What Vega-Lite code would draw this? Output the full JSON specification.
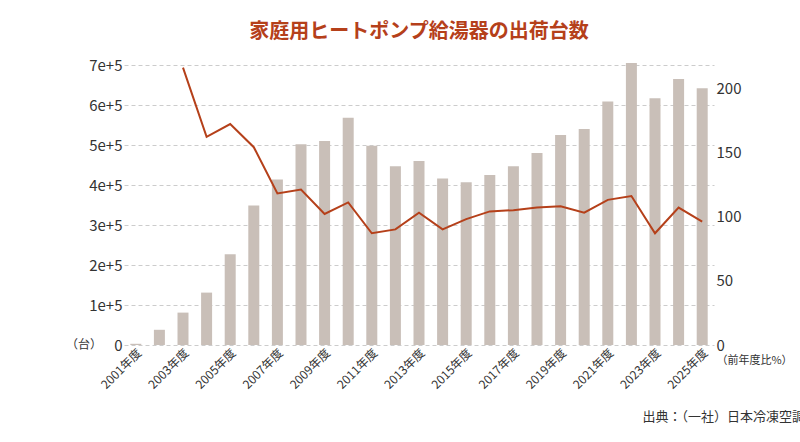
{
"$schema":"https://vega.github.io/schema/vega-lite/v6.json",
"width":590,"height":280,
"padding":{"left":65,"top":22,"right":10,"bottom":5},
"background":"white",
"config":{"font":"Noto Sans CJK JP","view":{"stroke":null}},
"title":{"text":"家庭用ヒートポンプ給湯器の出荷台数","color":"#b5401a","fontSize":20,"fontWeight":"bold","offset":16,"anchor":"middle"},
"data":{"values":[
{"y":"2001年度","n":3000,"r":null},{"y":"2002年度","n":38000,"r":null},{"y":"2003年度","n":81000,"r":216},
{"y":"2004年度","n":131000,"r":162},{"y":"2005年度","n":227000,"r":172},{"y":"2006年度","n":349000,"r":154},
{"y":"2007年度","n":414000,"r":118},{"y":"2008年度","n":502000,"r":121},{"y":"2009年度","n":510000,"r":102},
{"y":"2010年度","n":568000,"r":111},{"y":"2011年度","n":498000,"r":87},{"y":"2012年度","n":447000,"r":90},
{"y":"2013年度","n":460000,"r":103},{"y":"2014年度","n":416000,"r":90},{"y":"2015年度","n":407000,"r":98},
{"y":"2016年度","n":425000,"r":104},{"y":"2017年度","n":447000,"r":105},{"y":"2018年度","n":480000,"r":107},
{"y":"2019年度","n":525000,"r":108},{"y":"2020年度","n":540000,"r":103},{"y":"2021年度","n":609000,"r":113},
{"y":"2022年度","n":705000,"r":116},{"y":"2023年度","n":617000,"r":87},{"y":"2024年度","n":665000,"r":107},
{"y":"2025年度","n":642000,"r":96}]},
"encoding":{"x":{"field":"y","type":"nominal","sort":null,"title":null,
 "axis":{"labelAngle":-45,"labelFontSize":12,"labelColor":"#333","ticks":false,"domain":false,
 "values":["2001年度","2003年度","2005年度","2007年度","2009年度","2011年度","2013年度","2015年度","2017年度","2019年度","2021年度","2023年度","2025年度"]}}},
"layer":[
{"mark":{"type":"bar","color":"#c9bfb8","width":11},
 "encoding":{"y":{"field":"n","type":"quantitative","scale":{"domain":[0,700000]},"title":null,
  "axis":{"values":[0,100000,200000,300000,400000,500000,600000,700000],"format":",","labelFontSize":15,"labelColor":"#333","ticks":false,"domain":false,"gridDash":[4,3],"gridColor":"#ccc"}}}},
{"mark":{"type":"line","color":"#b5401a","strokeWidth":2},
 "encoding":{"y":{"field":"r","type":"quantitative","scale":{"domain":[0,218]},
  "axis":{"orient":"right","values":[0,50,100,150,200],"labelFontSize":15,"labelColor":"#333","ticks":false,"domain":false,"grid":false,
  "title":"（前年度比%）","titleAngle":0,"titleFontSize":11,"titleFontWeight":"normal","titleColor":"#333","titleY":300,"titleX":40,"titleAlign":"center"}}}},
{"mark":{"type":"text","text":"（台）","fontSize":12,"align":"right","color":"#333"},
 "encoding":{"x":{"value":-22},"y":{"value":280}}, "data":{"values":[{}]}},
{"mark":{"type":"text","text":"出典：（一社）日本冷凍空調工業会","fontSize":13,"align":"right","color":"#333"},
 "encoding":{"x":{"value":720},"y":{"value":352}}, "data":{"values":[{}]}}
],
"resolve":{"scale":{"y":"independent"}}
}
